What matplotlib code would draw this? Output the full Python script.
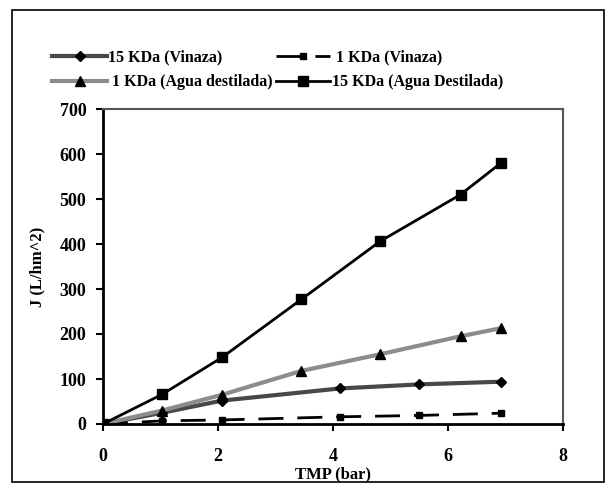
import matplotlib.pyplot as plt
from matplotlib.patches import Rectangle

# TMP (bar) values for each series
x_agua = [0, 1.03, 2.07, 3.45, 4.82, 6.22, 6.92]
x_vinaza = [0, 1.03, 2.07, 4.12, 5.5, 6.92]

# flux J (L/hm^2)
j_15_agua = [0, 66, 148, 277, 406, 510, 580]
j_1_agua = [0, 30, 65, 118, 155, 195, 213]
j_15_vinaza = [0, 25, 52, 79, 88, 94]
j_1_vinaza = [0, 7, 9, 16, 19, 24]

plt.rcParams['font.family'] = ['Liberation Serif', 'DejaVu Serif']
plt.rcParams['font.weight'] = 'bold'

fig = plt.figure(figsize=(6.15, 4.91), dpi=100)
ax = fig.add_axes([103 / 615, (491 - 424) / 491, 460 / 615, 315 / 491])

l1, = ax.plot(x_vinaza, j_15_vinaza, color='#484848', lw=3, marker='D', ms=5.5,
              mfc='black', mec='black', label='15 KDa (Vinaza)')
l2, = ax.plot(x_vinaza, j_1_vinaza, color='black', lw=2, dashes=(9, 5), marker='s', ms=5,
              label=' 1 KDa (Vinaza)')
l3, = ax.plot(x_agua, j_1_agua, color='#8c8c8c', lw=3, marker='^', ms=7,
              mfc='black', mec='black', label=' 1 KDa (Agua destilada)')
l4, = ax.plot(x_agua, j_15_agua, color='black', lw=2, marker='s', ms=7,
              label='15 KDa (Agua Destilada)')

ax.set_xlim(0, 8)
ax.set_ylim(0, 700)
ax.set_xticks(range(0, 9, 2))
ax.set_yticks(range(0, 701, 100))
ax.tick_params(labelsize=13, length=5, width=1.5, direction='out')
ax.tick_params(axis='x', pad=12)
ax.tick_params(axis='y', pad=7)

for side in ['top', 'right']:
    ax.spines[side].set_color('#555555')
    ax.spines[side].set_linewidth(1.5)
for side in ['left', 'bottom']:
    ax.spines[side].set_linewidth(2)

ax.set_xlabel('TMP (bar)', fontsize=12, fontweight='bold', labelpad=1)
ax.set_ylabel('J (L/hm^2)', fontsize=12, fontweight='bold', labelpad=10)

fig.legend(handles=[l1, l3, l2, l4], ncol=2, loc='upper left',
           bbox_to_anchor=(38 / 615, 1 - 35 / 491), frameon=False,
           fontsize=11.5, handlelength=3.4, columnspacing=0.2,
           handletextpad=0.1, labelspacing=0.55)

fig.patches.append(Rectangle((12 / 615, 9 / 491), 592 / 615, 472 / 491,
                             transform=fig.transFigure, fill=False,
                             ec='black', lw=1.2))

fig.savefig('out.png', dpi=100)
